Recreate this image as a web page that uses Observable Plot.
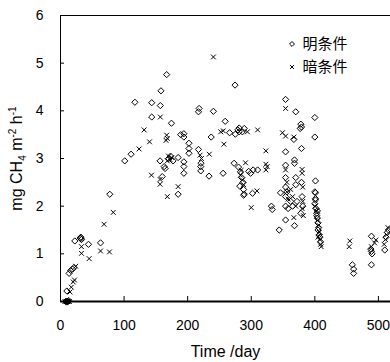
<!DOCTYPE html>
<html><head><meta charset="utf-8">
<script src="https://cdn.jsdelivr.net/npm/d3@7"></script>
<script src="https://cdn.jsdelivr.net/npm/@observablehq/plot@0.6"></script>
<style>body{margin:0;background:#fff;} #chart svg{display:block;}</style>
</head><body><div id="chart"></div>
<script>
// 明条件 (open diamonds)
const brightDay = [8,9,10,11,12,13,10,13.5,16,19,21,22.5,31,32,33,32,44,63,77.5,101,111,
  117,143.5,157,158,167,143.5,174.5,156.6,160,163,164.5,185,185,189,194,194,194,194,194,202,202,202,
  217,218,217,220.6,220.6,221,233.6,237,240.5,255.7,259,266,275,274.5,273,281,281,279,286,289,
  280,283,285,287,282,288,288,289,296,299,303,310,302,331.7,333,170,173,177,
  344,346,354,354,354,354,354,354,354,354,356,358,362,365,368,370,368,368,367,370,370,372,
  378,379,377,379,379,380,381,378,400,400,401,400,401,401,401,400,402,403,404,405,406,405,407,408,409,404,403,
  459,461,461,489,488,489,490,489,510,512,514,516];
const brightVal = [0,0,0,0,0,0.02,0.22,0.59,0.65,0.68,0.71,1.27,1.33,1.35,1.3,1.32,1.2,1.23,2.25,2.95,3.09,
  4.18,4.17,4.11,4.42,4.76,3.87,3.74,2.95,2.62,2.83,2.79,3.02,2.25,3.5,3.52,3.45,2.93,2.83,2.69,3.32,3.21,3.11,
  3.19,4.05,3.98,2.83,2.74,2.9,2.63,3.45,3.99,2.69,3.78,3.54,3.51,4.54,2.9,3.64,3.56,3.6,3.56,3.63,
  2.82,2.72,2.6,2.5,2.42,2.35,2.23,2.25,2.73,2.69,2.76,2.76,2.27,2.0,1.93,3.0,3.05,2.95,
  1.5,2.28,4.24,3.14,2.86,2.6,2.4,2.2,2.0,1.71,2.3,1.95,2.1,2.0,1.59,3.98,2.97,2.9,3.4,2.6,2.45,2.1,
  3.72,3.66,3.63,3.21,2.5,2.2,2.0,1.85,3.86,3.45,2.53,2.3,2.13,2.28,2.16,2.05,1.95,1.85,1.75,1.65,1.55,1.5,1.4,1.35,1.25,1.9,1.8,
  0.77,0.68,0.59,1.37,1.1,1.05,1.0,0.77,1.08,1.35,1.45,1.5];
// 暗条件 (crosses)
const darkDay = [7,9,11,12,14,15,17,20,22,24,33,33,45,63,77,68.5,83,
  123.6,131.5,140,143,157,156.6,156.6,167,168,166,168,185,170,172,175,168,
  219.5,221.7,234,240.5,252,256,257,294,310,291,283,286,288,284,309,300,323,323,323,325,
  354,349,354,367,354,356,356,358,362,365,367,370,380,380,381,381,380,382,
  400,402,404,406,407,408,409,410,405,
  455,454,494,496,489,509,511,513,515];
const darkVal = [0,0,0,0,0,0.2,0.3,0.41,0.45,0.74,1.15,1.01,0.9,1.06,1.04,1.62,1.87,
  3.2,3.6,3.35,2.65,3.87,2.56,2.46,3.49,3.42,3.38,2.2,2.41,3.05,2.98,3.02,2.95,
  3.07,3.0,3.09,5.13,3.56,3.58,3.3,3.56,3.6,2.91,2.65,2.55,2.45,2.75,2.32,1.97,3.16,2.88,2.76,2.83,
  4.05,3.54,3.47,3.45,2.76,2.5,2.3,2.15,2.35,2.2,1.76,2.0,2.77,2.69,2.4,2.1,1.95,1.8,
  2.0,1.9,1.7,1.6,1.45,1.3,1.2,1.15,1.35,
  1.27,1.15,1.23,1.29,1.15,1.2,1.3,1.4,1.55];

const xTicks = [0,100,200,300,400,500];
const yTicks = [0,1,2,3,4,5,6];
const legendLabels = ["明条件","暗条件"];
const legendSymbols = ["diamond2","times"];
const xTitle = "Time /day";
const yTitleParts = [["mg CH",""],["4","sub"],[" m",""],["-2","sup"],[" h",""],["-1","sup"]];

const bright = brightDay.map((d,i)=>({day:d, val:brightVal[i]}));
const dark = darkDay.map((d,i)=>({day:d, val:darkVal[i]}));
const YMARK = "__YTITLE__";

const plot = Plot.plot({
  width:390, height:362,
  marginLeft:60, marginRight:0, marginTop:15, marginBottom:61,
  style:{fontFamily:"'Liberation Sans', Arial, sans-serif", fontSize:"14px", color:"#000", background:"#fff"},
  x:{domain:[0,519]},
  y:{domain:[0,6]},
  marks:[
    Plot.ruleX([0], {stroke:"#000", strokeWidth:1}),
    Plot.ruleY([yTicks[yTicks.length-1]], {stroke:"#000", strokeWidth:1}),
    Plot.axisY(yTicks, {tickSize:-4, tickPadding:21, label:null, fontSize:14}),
    Plot.axisX(xTicks, {tickSize:-5, tickPadding:24, label:null, fontSize:14}),
    Plot.ruleY([0], {stroke:"#000", strokeWidth:2}),
    Plot.dot(bright, {x:"day", y:"val", symbol:"diamond2", r:2.8, stroke:"#000", strokeWidth:1}),
    Plot.dot(dark, {x:"day", y:"val", symbol:"times", r:2.3, stroke:"#000", strokeWidth:1}),
    // legend labels
    Plot.text([legendLabels[0]], {frameAnchor:"top-left", dx:242, dy:29, text:d=>d, textAnchor:"start", fontSize:15,
      fontFamily:"'Noto Sans CJK SC', sans-serif", lineAnchor:"middle"}),
    Plot.text([legendLabels[1]], {frameAnchor:"top-left", dx:242, dy:52, text:d=>d, textAnchor:"start", fontSize:15,
      fontFamily:"'Noto Sans CJK SC', sans-serif", lineAnchor:"middle"}),
    // axis titles
    Plot.text([xTitle], {frameAnchor:"bottom", dy:50, text:d=>d, fontSize:16, lineAnchor:"middle"}),
    Plot.text([YMARK], {frameAnchor:"left", dx:-44, rotate:-90, text:d=>d, fontSize:16, lineAnchor:"middle", textAnchor:"middle"})
  ]
});
document.getElementById("chart").appendChild(plot);

// legend symbols (same symbol shapes as the marks)
const svg = d3.select(plot);
const symMap = {diamond2: [d3.symbolDiamond2, 2.2], times: [d3.symbolTimes, 1.9]};
legendSymbols.forEach((s, i) => {
  const [type, r] = symMap[s];
  svg.append("path")
    .attr("d", d3.symbol(type, Math.PI * r * r)())
    .attr("transform", `translate(${60 + 232},${15 + 29 + i * 23})`)
    .attr("fill", "none").attr("stroke", "#000").attr("stroke-width", 1);
});

// rebuild y title with sub/superscripts
svg.selectAll("text").filter(function(){return this.textContent === YMARK;}).each(function(){
  const t = d3.select(this);
  t.text(null);
  let shift = 0;
  for (const [s, kind] of yTitleParts) {
    const target = kind === "sub" ? 4 : kind === "sup" ? -6 : 0;
    const ts = t.append("tspan").text(s).attr("dy", target - shift);
    if (kind) ts.attr("font-size", 10);
    shift = target;
  }
});
</script>
</body></html>
